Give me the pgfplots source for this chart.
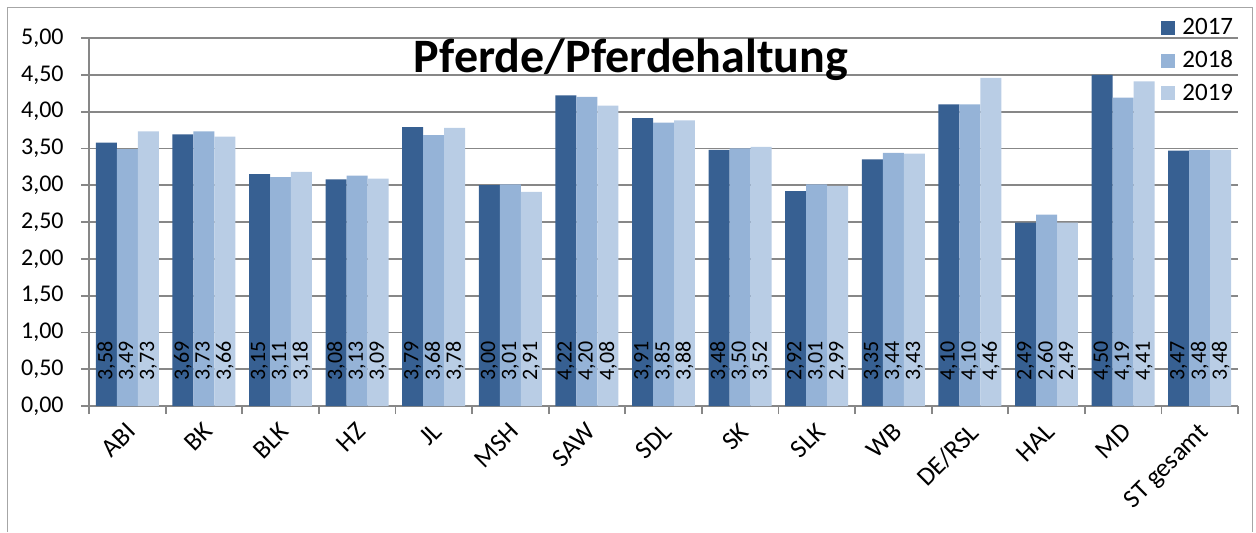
\documentclass[border=0pt]{standalone}
\usepackage{fontspec}
\setmainfont{Carlito}
\usepackage{pgfplots}
\usepackage{pgfplotstable}
\pgfplotsset{compat=1.18}
\definecolor{cA}{HTML}{376092}
\definecolor{cB}{HTML}{95B3D7}
\definecolor{cC}{HTML}{B9CDE5}
\definecolor{gridg}{HTML}{878787}
\definecolor{frameg}{HTML}{A6A6A6}
\pgfplotstableread{
x a b c
0 3.58 3.49 3.73
1 3.69 3.73 3.66
2 3.15 3.11 3.18
3 3.08 3.13 3.09
4 3.79 3.68 3.78
5 3.00 3.01 2.91
6 4.22 4.20 4.08
7 3.91 3.85 3.88
8 3.48 3.50 3.52
9 2.92 3.01 2.99
10 3.35 3.44 3.43
11 4.10 4.10 4.46
12 2.49 2.60 2.49
13 4.50 4.19 4.41
14 3.47 3.48 3.48
}\data
\begin{document}
\begin{tikzpicture}
\path (0,0) rectangle (628pt,266pt);
\draw[frameg, line width=0.5pt] (3.5pt,0pt) -- (3.5pt,262.5pt) -- (626pt,262.5pt) -- (626pt,0pt);
\begin{axis}[
  at={(44.5pt,63pt)}, anchor=south west,
  scale only axis, width=574.5pt, height=184pt,
  xmin=-0.5, xmax=14.5, ymin=0, ymax=5,
  axis lines*=left,
  axis line style={draw=gridg, line width=0.9pt},
  tick align=outside,
  major tick length=4pt,
  tick style={draw=gridg, line width=0.9pt},
  ymajorgrids,
  major grid style={draw=gridg, line width=0.9pt},
  ytick={0,0.5,...,5},
  xtick={-0.5,0.5,...,14.5},
  xticklabels={},
  extra x ticks={0,1,...,14},
  extra x tick labels={ABI,BK,BLK,HZ,JL,MSH,SAW,SDL,SK,SLK,WB,DE/RSL,HAL,MD,ST gesamt},
  extra x tick style={major tick length=0pt, grid=none,
    tick label style={xshift=-1pt, yshift=-7.5pt, rotate=45, anchor=north east, inner sep=0pt, font=\fontsize{13}{15}\selectfont}},
  /pgf/number format/.cd, use comma, fixed, fixed zerofill, precision=2, assume math mode=true,
  /pgfplots/.cd,
  tick label style={font=\fontsize{12}{15}\selectfont, text=black},
  yticklabel style={anchor=east, inner sep=0pt, xshift=-8.5pt},
  legend style={at={(0.933,1.054)}, anchor=north west, draw=none, fill=none,
    inner sep=0pt, row sep=6.5pt, column sep=3.5pt,
    font=\fontsize{12.5}{15}\selectfont, nodes={inner sep=0pt}},
  legend cell align=left,
  legend image code/.code={\draw[#1,draw=none] (0pt,-3.5pt) rectangle (7pt,3.5pt);},
  clip=false,
]
\addplot[ybar, bar width=0.274, bar shift=-0.274, fill=cA, draw=none] table[x=x,y=a]{\data};
\addplot[ybar, bar width=0.274, bar shift=0, fill=cB, draw=none] table[x=x,y=b]{\data};
\addplot[ybar, bar width=0.274, bar shift=0.274, fill=cC, draw=none] table[x=x,y=c]{\data};
\legend{2017,2018,2019}
\pgfplotsset{every node near coord/.append style={yshift=12.5pt, rotate=90, anchor=west, inner sep=0pt, font=\fontsize{11}{13}\selectfont, text=black}}
\addplot[draw=none, mark=none, nodes near coords, point meta=explicit, forget plot] table[x expr=\thisrow{x}-0.274, y expr=0, meta=a]{\data};
\addplot[draw=none, mark=none, nodes near coords, point meta=explicit, forget plot] table[x expr=\thisrow{x}, y expr=0, meta=b]{\data};
\addplot[draw=none, mark=none, nodes near coords, point meta=explicit, forget plot] table[x expr=\thisrow{x}+0.274, y expr=0, meta=c]{\data};
\end{axis}
\node[anchor=base, font=\fontsize{24}{28}\selectfont\bfseries] at (315.5pt,230pt) {Pferde/Pferdehaltung};
\end{tikzpicture}
\end{document}
